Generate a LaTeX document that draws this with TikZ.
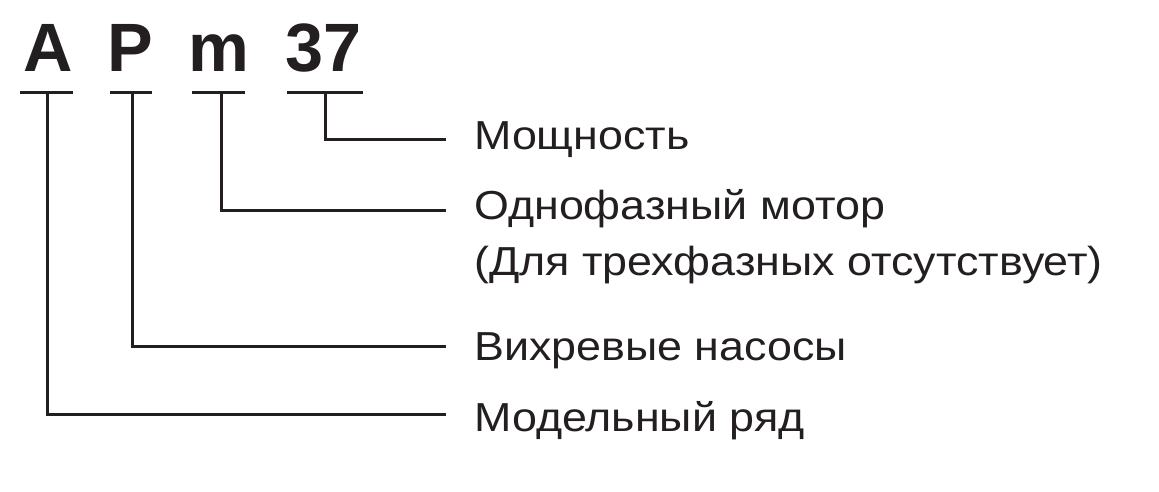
\documentclass[tikz,border=0pt]{standalone}
\usepackage{fontspec}
\setmainfont{Liberation Sans}
\newfontfamily\lblfont[FakeStretch=1.107]{Liberation Sans}
\definecolor{ink}{HTML}{231F20}
\begin{document}
\begin{tikzpicture}[x=1pt,y=-1pt,
  big/.style={font=\fontsize{68.4}{80}\selectfont\bfseries, anchor=base, inner sep=0pt, text=ink},
  lbl/.style={font=\lblfont\fontsize{40.5}{48}\selectfont, anchor=base west, inner sep=0pt, text=ink},
  conn/.style={draw=ink, line width=3pt}]
\useasboundingbox (0,0) rectangle (1159,492);
% code letters
\node[big] (A) at (48,72) {A};
\node[big] (P) at (130.5,72) {P};
\node[big] (m) at (218.5,72) {m};
\node[big] (n37) at (323.5,72) {37};
% underlines
\coordinate (uA1) at (20,93);  \coordinate (uA2) at (72.5,93);
\coordinate (uP1) at (110,93); \coordinate (uP2) at (152,93);
\coordinate (um1) at (191.5,93); \coordinate (um2) at (244.5,93);
\coordinate (u31) at (287,93); \coordinate (u32) at (363,93);
\draw[conn] (uA1) -- (uA2);
\draw[conn] (uP1) -- (uP2);
\draw[conn] (um1) -- (um2);
\draw[conn] (u31) -- (u32);
% stems
\coordinate (tA) at (47.5,93);
\coordinate (tP) at (132.5,93);
\coordinate (tm) at (221,93);
\coordinate (t3) at (325,93);
% line ends
\coordinate (e3) at (446,139.3);
\coordinate (em) at (446,210);
\coordinate (eP) at (446,346.5);
\coordinate (eA) at (446,414);
\draw[conn] (t3) |- (e3);
\draw[conn] (tm) |- (em);
\draw[conn] (tP) |- (eP);
\draw[conn] (tA) |- (eA);
% labels
\node[lbl] (l3) at (474,149.5) {Мощность};
\node[lbl] (lm1) at (474,219) {Однофазный мотор};
\node[lbl] (lm2) at (474,275) {(Для трехфазных отсутствует)};
\node[lbl] (lP) at (474,360.5) {Вихревые насосы};
\node[lbl] (lA) at (474,431) {Модельный ряд};
\end{tikzpicture}
\end{document}
